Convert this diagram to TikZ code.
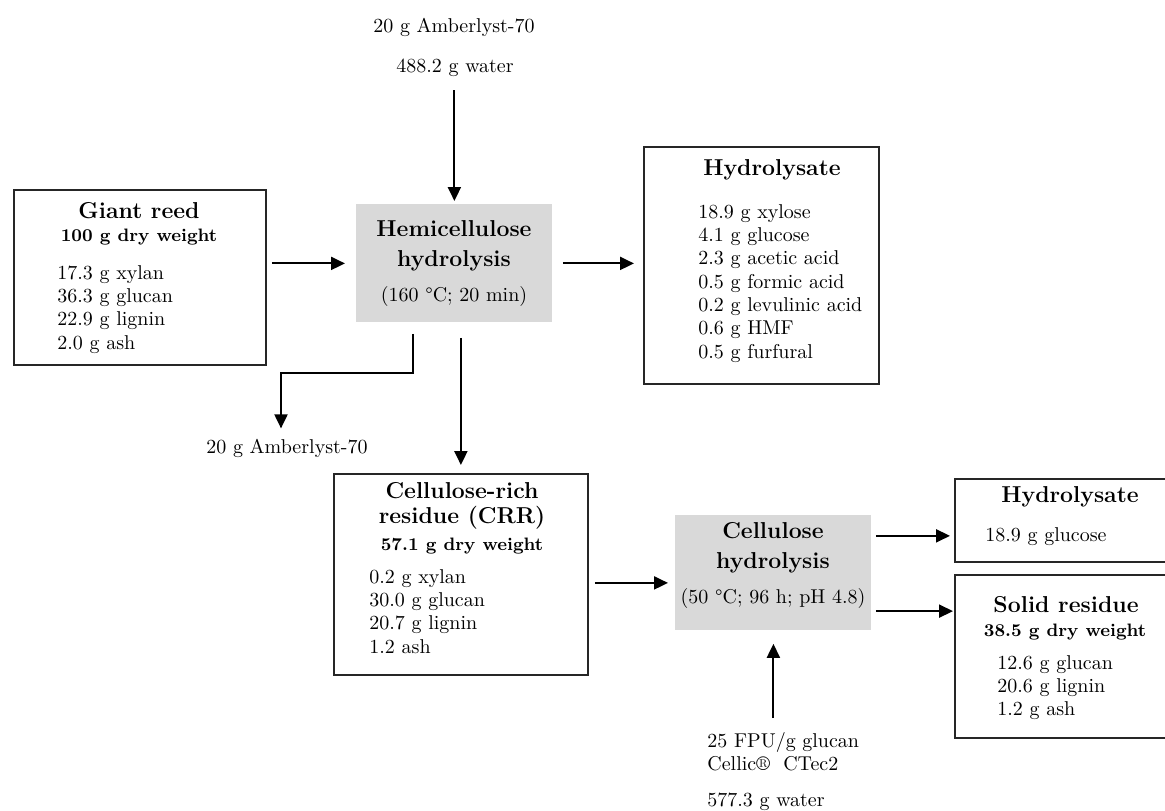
\documentclass[tikz,border=0pt]{standalone}
\usetikzlibrary{arrows.meta,calc}

\begin{document}
\begin{tikzpicture}[x=0.5pt,y=-0.5pt,
  flow/.style={-{Triangle[length=7pt,width=6.5pt]},line width=1pt},
  databox/.style={draw=black!85,line width=0.9pt,rectangle,inner sep=0pt},
  procbox/.style={fill=black!15,rectangle,inner sep=0pt},
  ttl/.style={font=\fontsize{11.5}{15}\selectfont\bfseries,inner sep=0pt},
  sub/.style={font=\fontsize{9}{11}\selectfont\bfseries,inner sep=0pt},
  txt/.style={font=\fontsize{10}{11.65}\selectfont,align=left,inner sep=0pt}]
	\useasboundingbox (0,0) rectangle (1165,810);
	\clip (0,0) rectangle (1165,810);
	% boxes
	\node[databox,anchor=north west,minimum width=126pt,minimum height=87.5pt] (reed) at (13,189) {};
	\node[procbox,anchor=north west,minimum width=98pt,minimum height=59pt] (hemi) at (356,204) {};
	\node[databox,anchor=north west,minimum width=117.5pt,minimum height=118.5pt] (hyd1) at (643,146) {};
	\node[databox,anchor=north west,minimum width=127pt,minimum height=100.5pt] (crr) at (333,473) {};
	\node[procbox,anchor=north west,minimum width=98pt,minimum height=57.5pt] (cell) at (675,515) {};
	\node[databox,anchor=north west,minimum width=120pt,minimum height=41.5pt] (hyd2) at (954,478) {};
	\node[databox,anchor=north west,minimum width=120pt,minimum height=81.5pt] (solid) at (954,574) {};
	% giant reed
	\node[ttl] (reedT) at (139,211) {Giant reed};
	\node[sub] (reedS) at (139,237) {100 g dry weight};
	\node[txt,anchor=north west] (reedL) at (57,265) {17.3 g xylan\\36.3 g glucan\\22.9 g lignin\\2.0 g ash};
	% hemicellulose step
	\node[ttl,align=center] (hemiT) at (454,246) {Hemicellulose\\hydrolysis};
	\node[txt] (hemiC) at (454,296) {(160 °C; 20 min)};
	% hydrolysate 1
	\node[ttl] (hyd1T) at (772,170) {Hydrolysate};
	\node[txt,anchor=north west] (hyd1L) at (698,204) {18.9 g xylose\\4.1 g glucose\\2.3 g acetic acid\\0.5 g formic acid\\0.2 g levulinic acid\\0.6 g HMF\\0.5 g furfural};
	% CRR
	\node[ttl,align=center,font=\fontsize{11.5}{12.5}\selectfont\bfseries] (crrT) at (462,505.5) {Cellulose-rich\\residue (CRR)};
	\node[sub] (crrS) at (462,546) {57.1 g dry weight};
	\node[txt,anchor=north west] (crrL) at (369,569) {0.2 g xylan\\30.0 g glucan\\20.7 g lignin\\1.2 ash};
	% cellulose step
	\node[ttl,align=center] (cellT) at (773,548) {Cellulose\\hydrolysis};
	\node[txt] (cellC) at (773,598) {(50 °C; 96 h; pH 4.8)};
	% hydrolysate 2
	\node[ttl] (hyd2T) at (1070,497) {Hydrolysate};
	\node[txt,anchor=north west] (hyd2L) at (985,527) {18.9 g glucose};
	% solid residue
	\node[ttl] (solidT) at (1066,605) {Solid residue};
	\node[sub] (solidS) at (1065,632) {38.5 g dry weight};
	\node[txt,anchor=north west] (solidL) at (997,655) {12.6 g glucan\\20.6 g lignin\\1.2 g ash};
	% inputs and outputs
	\node[txt] (amb1) at (454,27) {20 g Amberlyst-70};
	\node[txt] (wat1) at (455,68) {488.2 g water};
	\node[txt] (amb2) at (287,448) {20 g Amberlyst-70};
	\node[txt,anchor=north west] (enz) at (707,732) {25 FPU/g glucan\\Cellic®\ \ CTec2};
	\node[txt,anchor=north west] (wat2) at (707,793) {577.3 g water};
	% arrows
	\draw[flow,shorten <=6.5pt,shorten >=1.5pt] (wat1.south -| hemi.north) -- (hemi.north);
	\draw[flow,shorten <=2.5pt,shorten >=5.5pt] (reed.east |- hemi.west) -- (hemi.west);
	\draw[flow,shorten <=5pt,shorten >=4.5pt] (hemi.east) -- (hemi.east -| hyd1.west);
	\draw[flow,shorten <=5.5pt,shorten >=5pt] ([xshift=-20.5pt]hemi.south) -- ++(0,-25pt) -| ([xshift=-3pt]amb2.north);
	\draw[flow,shorten <=7.5pt,shorten >=4pt] (crr.north |- hemi.south) -- (crr.north);
	\draw[flow,shorten <=3pt,shorten >=3.5pt] ([yshift=-4.25pt]crr.east) -- ([yshift=-4.25pt]crr.east -| cell.west);
	\coordinate (c1) at ($(cell.north east)!0.18!(cell.south east)$);
	\coordinate (c2) at ($(cell.north east)!0.83!(cell.south east)$);
	\draw[flow,shorten <=2pt,shorten >=2pt] (c1) -- (c1 -| hyd2.west);
	\draw[flow,shorten <=2pt,shorten >=0.5pt] (c2) -- (c2 -| solid.west);
	\draw[flow,shorten <=7pt,shorten >=6.5pt] (enz.north -| cell.south) -- (cell.south);
\end{tikzpicture}
\end{document}
